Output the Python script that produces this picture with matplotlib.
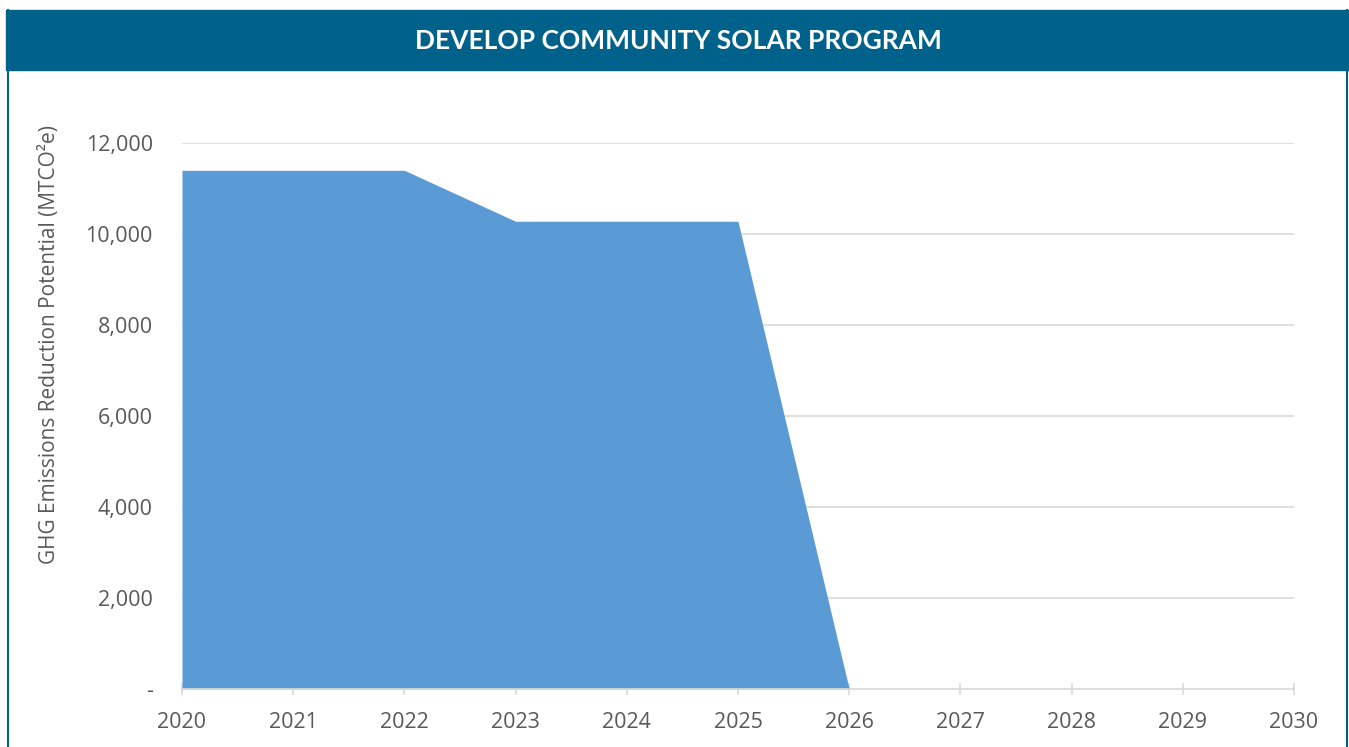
import matplotlib.pyplot as plt
from matplotlib.patches import Rectangle
from matplotlib.lines import Line2D

years = [2020, 2021, 2022, 2023, 2024, 2025, 2026, 2027, 2028, 2029, 2030]
area_years = [2020, 2021, 2022, 2023, 2024, 2025, 2026]
reduction = [11400, 11400, 11400, 10280, 10280, 10280, 0]
ytick_vals = [0, 2000, 4000, 6000, 8000, 10000, 12000]
ytick_labels = ['-', '2,000', '4,000', '6,000', '8,000', '10,000', '12,000']

title = 'DEVELOP COMMUNITY SOLAR PROGRAM'
ylabel = 'GHG Emissions Reduction Potential (MTCO\u00b2e)'

dark_blue = '#00628B'
fill_blue = '#5B9BD5'
text_grey = '#595959'

plt.rcParams['font.family'] = ['Open Sans', 'DejaVu Sans']

fig = plt.figure(figsize=(13.49, 7.47), dpi=100)
W, H = 1349, 747

# banner and frame
fig.patches.append(Rectangle((6 / W, 1 - 70 / H), 1 - 6 / W, 60 / H,
                             transform=fig.transFigure, color=dark_blue, zorder=0))
fig.lines.append(Line2D([7.5 / W, 7.5 / W], [0, 1 - 10 / H], transform=fig.transFigure,
                        color=dark_blue, lw=1.5))
fig.lines.append(Line2D([1346.5 / W, 1346.5 / W], [0, 1 - 10 / H], transform=fig.transFigure,
                        color=dark_blue, lw=1.5))
fig.text(678 / W, 1 - 41 / H, title, color='white', fontsize=19, fontweight='bold',
         family=['Lato', 'DejaVu Sans'], ha='center', va='center')

ax = fig.add_axes([182 / W, 1 - 689 / H, (1294 - 182) / W, (689 - 143) / H])
ax.fill_between(area_years, reduction, 0, color=fill_blue, lw=0, zorder=2)

ax.set_xlim(2020, 2030)
ax.set_ylim(0, 12000)
ax.set_xticks(years)
ax.set_xticklabels([str(y) for y in years])
ax.set_yticks(ytick_vals)
ax.set_yticklabels(ytick_labels)

for y in ytick_vals[1:]:
    ax.axhline(y, color='#D9D9D9', lw=1.2, zorder=1)

for s in ['top', 'right', 'left']:
    ax.spines[s].set_visible(False)
ax.spines['bottom'].set_color('#D9D9D9')
ax.spines['bottom'].set_linewidth(1.2)
ax.spines['bottom'].set_zorder(3)

ax.tick_params(axis='x', colors='#D9D9D9', length=9, width=1.2, direction='inout',
               labelcolor=text_grey, labelsize=15.5, pad=12)
ax.tick_params(axis='y', length=0, labelcolor=text_grey, labelsize=15.5, pad=21)
ax.set_ylabel(ylabel, color=text_grey, fontsize=15)
ax.yaxis.set_label_coords(-122 / (1294 - 182), (689 - 345) / (689 - 143))

fig.savefig('out.png', dpi=100)
